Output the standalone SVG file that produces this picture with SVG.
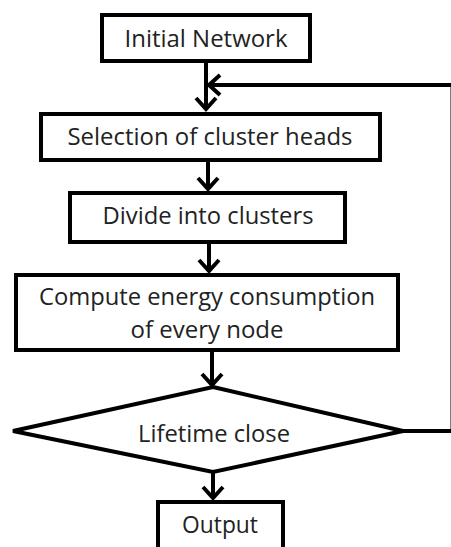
<svg xmlns="http://www.w3.org/2000/svg" width="451" height="547" viewBox="0 0 451 547">
<style>
.box{fill:#fff;stroke:#000;stroke-width:4}
.t{font-family:"Open Sans","Liberation Sans",sans-serif;font-size:23px;fill:#222;text-anchor:middle}
.c{fill:none;stroke:#000;stroke-width:4}
</style>
<defs>
<marker id="ah" markerUnits="userSpaceOnUse" markerWidth="30" markerHeight="30" refX="14" refY="12" orient="auto">
<path d="M2,2 L13,12 L2,22" fill="none" stroke="#000" stroke-width="4"/>
</marker>
</defs>
<rect width="451" height="547" fill="#fff"/>
<g id="connectors">
<path class="c" d="M206,63 V110" marker-end="url(#ah)"/>
<path class="c" d="M403,431 H452.5 V85 H208" marker-end="url(#ah)"/>
<path class="c" d="M208,162 V190" marker-end="url(#ah)"/>
<path class="c" d="M209,244 V272" marker-end="url(#ah)"/>
<path class="c" d="M212,352 V386" marker-end="url(#ah)"/>
<path class="c" d="M213,472 V499" marker-end="url(#ah)"/>
</g>
<g id="n1"><rect class="box" x="102" y="15" width="208" height="46"/><text class="t" x="206" y="47" textLength="163" lengthAdjust="spacingAndGlyphs">Initial Network</text></g>
<g id="n2"><rect class="box" x="41" y="114" width="339" height="46"/><text class="t" x="210" y="145" textLength="285" lengthAdjust="spacingAndGlyphs">Selection of cluster heads</text></g>
<g id="n3"><rect class="box" x="70" y="193" width="275" height="49"/><text class="t" x="208" y="224" textLength="211" lengthAdjust="spacingAndGlyphs">Divide into clusters</text></g>
<g id="n4"><rect class="box" x="16" y="275" width="382" height="75"/><text class="t" x="207" y="305" textLength="336" lengthAdjust="spacingAndGlyphs">Compute energy consumption</text><text class="t" x="207" y="338" textLength="153" lengthAdjust="spacingAndGlyphs">of every node</text></g>
<g id="n5"><polygon class="box" points="213,387 403,431 213,472 13,431"/><text class="t" x="214" y="442" textLength="152" lengthAdjust="spacingAndGlyphs">Lifetime close</text></g>
<g id="n6"><rect class="box" x="158" y="502" width="125" height="50"/><text class="t" x="220" y="533" textLength="76" lengthAdjust="spacingAndGlyphs">Output</text></g>
</svg>
